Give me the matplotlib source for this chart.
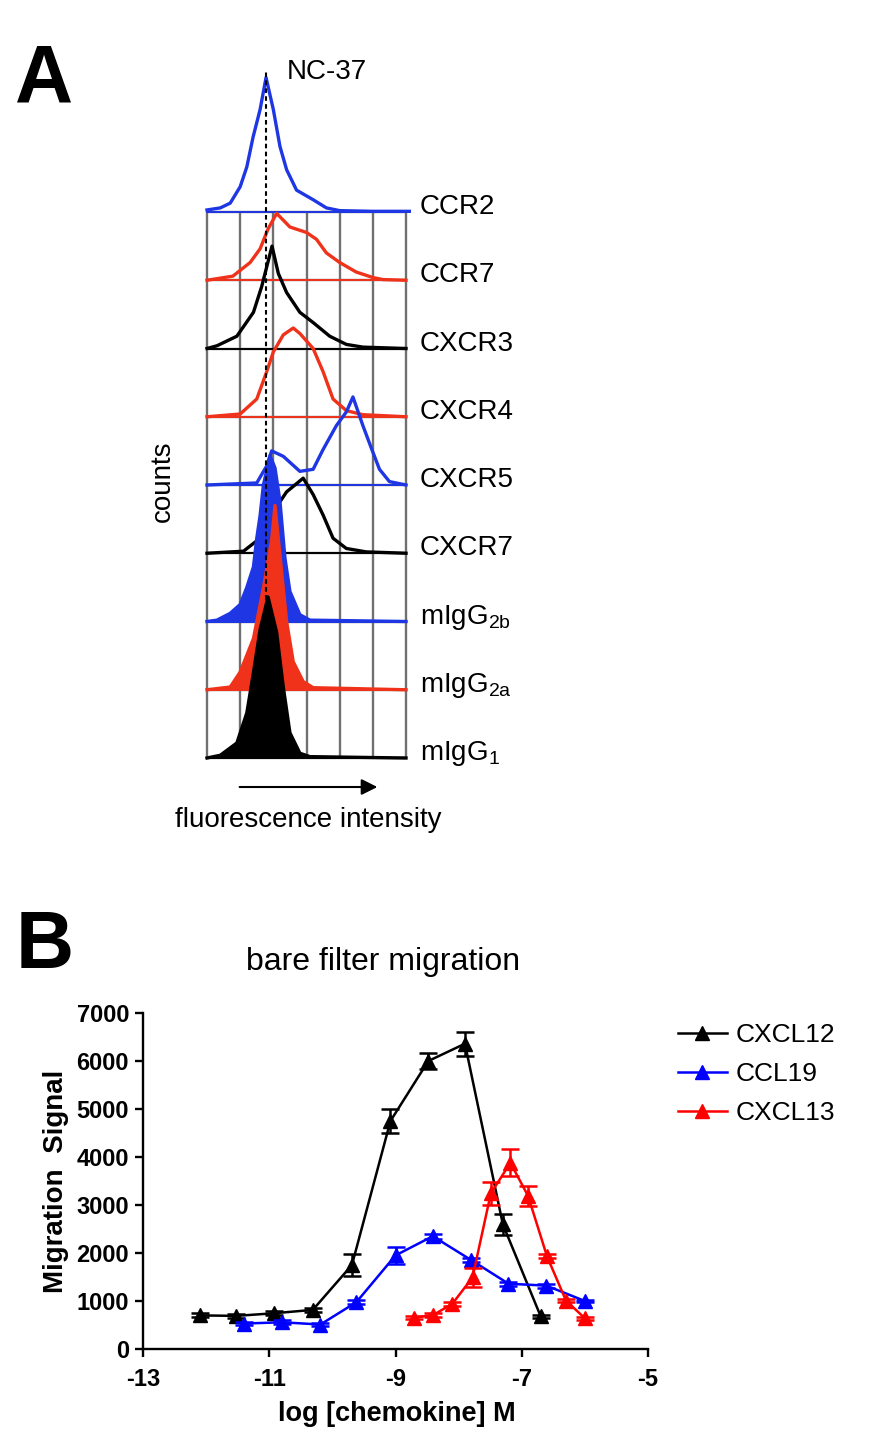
import numpy as np
import matplotlib.pyplot as plt

plt.rcParams['font.family'] = ['Liberation Sans', 'DejaVu Sans']
plt.rcParams['mathtext.fontset'] = 'custom'
plt.rcParams['mathtext.rm'] = 'Liberation Sans'
plt.rcParams['mathtext.it'] = 'Liberation Sans:italic'
plt.rcParams['mathtext.bf'] = 'Liberation Sans:bold'

# ---- panel A: flow histograms (x in decades, height in row units) ----
ccr2_d = [0, 0.4, 0.7, 1.0, 1.2, 1.39, 1.6, 1.78, 2.0, 2.2, 2.4, 2.7, 3.2, 3.6, 4.0, 5.0, 6.1]
ccr2_h = [0.03, 0.06, 0.13, 0.37, 0.66, 1.10, 1.50, 1.97, 1.50, 0.96, 0.62, 0.32, 0.18, 0.06, 0.02, 0.01, 0.01]

ccr7_d = [0, 0.78, 1.3, 1.6, 1.84, 2.1, 2.5, 3.0, 3.3, 3.6, 4.0, 4.5, 5.0, 5.3, 6.0]
ccr7_h = [0.0, 0.06, 0.26, 0.46, 0.75, 0.98, 0.78, 0.70, 0.60, 0.40, 0.26, 0.12, 0.04, 0.01, 0.0]

cxcr3_d = [0, 0.3, 0.9, 1.4, 1.65, 1.96, 2.15, 2.4, 2.8, 3.2, 3.7, 4.2, 4.7, 6.0]
cxcr3_h = [0.0, 0.04, 0.18, 0.53, 0.91, 1.5, 1.1, 0.82, 0.53, 0.38, 0.18, 0.06, 0.02, 0.0]

cxcr4_d = [0, 1.0, 1.5, 1.8, 2.0, 2.3, 2.6, 2.8, 3.2, 3.5, 3.8, 4.2, 4.7, 6.0]
cxcr4_h = [0.0, 0.04, 0.26, 0.66, 0.95, 1.2, 1.3, 1.22, 1.0, 0.66, 0.26, 0.09, 0.03, 0.0]

cxcr5_d = [0, 1.5, 1.8, 1.95, 2.3, 2.8, 3.2, 3.5, 3.9, 4.2, 4.4, 4.7, 4.97, 5.2, 5.5, 6.0]
cxcr5_h = [0.0, 0.03, 0.28, 0.5, 0.42, 0.2, 0.23, 0.52, 0.87, 1.07, 1.29, 0.87, 0.52, 0.23, 0.05, 0.0]

cxcr7_d = [0, 1.1, 1.6, 2.0, 2.4, 2.9, 3.2, 3.5, 3.8, 4.2, 4.8, 6.0]
cxcr7_h = [0.0, 0.03, 0.22, 0.61, 0.9, 1.1, 0.86, 0.56, 0.22, 0.07, 0.02, 0.0]

igg2b_d = [0, 0.3, 0.7, 1.0, 1.2, 1.4, 1.5, 1.6, 1.7, 1.9, 2.05, 2.2, 2.35, 2.5, 2.8, 3.1, 6.0]
igg2b_h = [0.0, 0.02, 0.12, 0.25, 0.5, 0.8, 1.22, 1.55, 2.0, 2.43, 2.25, 1.76, 0.93, 0.44, 0.1, 0.02, 0.0]

igg2a_d = [0, 0.7, 1.0, 1.4, 1.7, 1.95, 2.05, 2.2, 2.4, 2.6, 2.9, 3.2, 6.0]
igg2a_h = [0.0, 0.04, 0.26, 0.75, 1.49, 2.2, 2.7, 1.97, 1.0, 0.41, 0.12, 0.03, 0.0]

igg1_d = [0, 0.4, 0.9, 1.2, 1.4, 1.6, 1.84, 2.1, 2.3, 2.5, 2.8, 3.1, 6.0]
igg1_h = [0.0, 0.04, 0.22, 0.66, 1.25, 1.88, 2.36, 1.84, 1.04, 0.37, 0.07, 0.02, 0.0]

hist_labels = ['CCR2', 'CCR7', 'CXCR3', 'CXCR4', 'CXCR5', 'CXCR7',
               r'mIgG$_{\mathrm{2b}}$', r'mIgG$_{\mathrm{2a}}$', r'mIgG$_{\mathrm{1}}$']

# ---- panel B: migration dose response ----
cxcl12_x = [-12.10, -11.52, -10.92, -10.31, -9.69, -9.08, -8.48, -7.90, -7.30, -6.70]
cxcl12_y = [700, 690, 745, 815, 1750, 4750, 6000, 6360, 2600, 680]
cxcl12_e = [40, 40, 40, 40, 220, 245, 170, 250, 215, 30]

ccl19_x = [-11.40, -10.80, -10.19, -9.62, -9.00, -8.41, -7.81, -7.21, -6.61, -6.00]
ccl19_y = [530, 557, 510, 975, 1950, 2350, 1860, 1360, 1320, 1000]
ccl19_e = [40, 40, 40, 40, 170, 50, 40, 40, 40, 30]

cxcl13_x = [-8.71, -8.40, -8.10, -7.78, -7.49, -7.18, -6.90, -6.60, -6.30, -6.00]
cxcl13_y = [650, 710, 940, 1490, 3240, 3880, 3190, 1930, 1010, 640]
cxcl13_e = [30, 40, 40, 190, 245, 280, 215, 40, 40, 30]

blue_h = '#1e36e4'
red_h = '#f0321a'

fig = plt.figure(figsize=(8.81, 14.41), dpi=100)

# panel A axes: 1 decade = 33.17 px, 1 row = 68.25 px, x=0 at px 207, y=0 at px 758
px_d, px_r = 33.17, 68.25
x0, x1, y0, y1 = -0.2, 6.4, -0.2, 10.3
axA = fig.add_axes([(207 + x0 * px_d) / 881, (1441 - 758 + y0 * px_r) / 1441,
                    (x1 - x0) * px_d / 881, (y1 - y0) * px_r / 1441])
axA.set_xlim(x0, x1)
axA.set_ylim(y0, y1)
axA.axis('off')

axA.vlines(range(7), 0, 8, color='#707070', lw=1.7, zorder=1)
axA.hlines(range(9), 0, 6, color='#707070', lw=1.7, zorder=1)

hists = [
    (ccr2_d, ccr2_h, blue_h, False),
    (ccr7_d, ccr7_h, red_h, False),
    (cxcr3_d, cxcr3_h, 'black', False),
    (cxcr4_d, cxcr4_h, red_h, False),
    (cxcr5_d, cxcr5_h, blue_h, False),
    (cxcr7_d, cxcr7_h, 'black', False),
    (igg2b_d, igg2b_h, blue_h, True),
    (igg2a_d, igg2a_h, red_h, True),
    (igg1_d, igg1_h, 'black', True),
]

for i, (d, h, color, filled) in enumerate(hists):
    base = 8 - i
    top = base + np.array(h)
    axA.plot(d, top, color=color, lw=2.4, zorder=3 + i)
    if filled:
        axA.fill_between(d, base, top, color=color, lw=0, zorder=3 + i)
    axA.plot([0, d[-1]], [base, base], color=color, lw=1.4, zorder=3 + i)
    axA.text(6.42, base - 0.03, hist_labels[i], fontsize=20, va='baseline', ha='left')

axA.plot([1.78, 1.78], [0.12, 10.08], color='black', lw=1.5, ls=(0, (2.2, 1.6)), zorder=20)
axA.text(2.41, 10.05, 'NC-37', fontsize=20, va='center', ha='left')
axA.annotate('', xy=(5.22, -0.425), xytext=(0.9, -0.425),
             arrowprops=dict(arrowstyle='-|>', color='black', lw=1.5, mutation_scale=24),
             annotation_clip=False)
axA.text(3.05, -0.91, 'fluorescence intensity', fontsize=20, ha='center', va='center')
fig.text(163 / 881, 1 - 481 / 1441, 'counts', fontsize=20, rotation=90, ha='center', va='center')

fig.text(15 / 881, 1 - 101 / 1441, 'A', fontsize=58, fontweight='bold', va='baseline')
fig.text(16 / 881, 1 - 968 / 1441, 'B', fontsize=58, fontweight='bold', va='baseline')

# panel B axes
axB = fig.add_axes([143 / 881, (1441 - 1349) / 1441, 505 / 881, 336 / 1441])
series = [
    (cxcl12_x, cxcl12_y, cxcl12_e, 'black', 'CXCL12'),
    (ccl19_x, ccl19_y, ccl19_e, '#0000ff', 'CCL19'),
    (cxcl13_x, cxcl13_y, cxcl13_e, '#ff0000', 'CXCL13'),
]
for x, y, e, c, label in series:
    axB.errorbar(x, y, yerr=e, fmt='none', ecolor=c, elinewidth=1.8, capsize=6.5, capthick=1.8)
    axB.plot(x, y, color=c, lw=1.8, marker='^', ms=10, label=label)

axB.set_xlim(-13, -5)
axB.set_ylim(0, 7000)
axB.set_xticks([-13, -11, -9, -7, -5])
axB.set_xticklabels(['-13', '-11', '-9', '-7', '-5'])
axB.set_yticks(range(0, 7001, 1000))
for s in ['top', 'right']:
    axB.spines[s].set_visible(False)
for s in ['left', 'bottom']:
    axB.spines[s].set_linewidth(1.7)
axB.tick_params(length=6, width=1.7, labelsize=17, pad=4)
axB.tick_params(axis='x', pad=8)
for lab in axB.get_xticklabels() + axB.get_yticklabels():
    lab.set_fontweight('bold')
axB.set_xlabel('log [chemokine] M', fontsize=19.5, fontweight='bold')
axB.xaxis.set_label_coords(0.503, -0.155)
axB.set_ylabel('Migration  Signal', fontsize=20, fontweight='bold')
axB.yaxis.set_label_coords(-0.147, 0.5)
fig.text(383 / 881, 1 - 962 / 1441, 'bare filter migration', fontsize=23, ha='center', va='center')

axB.legend(loc='upper left', bbox_to_anchor=(678 / 881, 1 - 1023 / 1441),
           bbox_transform=fig.transFigure, frameon=False, fontsize=19,
           handlelength=1.85, handletextpad=0.35, labelspacing=0.57,
           borderpad=0, borderaxespad=0, numpoints=1)

plt.savefig('out.png', dpi=100)
